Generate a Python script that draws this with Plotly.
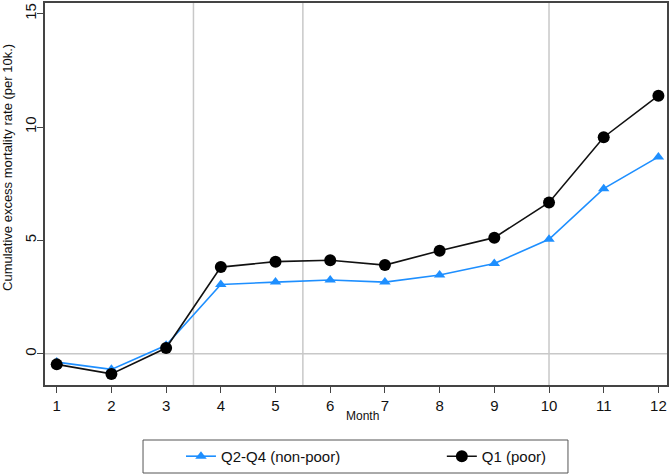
import plotly.graph_objects as go

months = list(range(1, 13))
nonpoor = [-0.37, -0.69, 0.37, 3.05, 3.16, 3.25, 3.16, 3.47, 3.98, 5.05, 7.28, 8.68]
poor = [-0.47, -0.89, 0.25, 3.82, 4.06, 4.12, 3.91, 4.54, 5.12, 6.67, 9.55, 11.38]
series_names = ["Q2-Q4 (non-poor)", "Q1 (poor)"]
ref_x = [3.5, 5.5, 10]
ref_y = [0]
x_ticks = months
y_ticks = [0, 5, 10, 15]

FONT = "Liberation Sans, Arial, Helvetica, sans-serif"

fig = go.Figure()
fig.add_trace(go.Scatter(x=months, y=nonpoor, name=series_names[0], mode="lines+markers",
                         line=dict(color="#1e8fff", width=1.6),
                         marker=dict(symbol="triangle-up", size=10, color="#1e8fff"),
                         legend="legend"))
fig.add_trace(go.Scatter(x=months, y=poor, name=series_names[1], mode="lines+markers",
                         line=dict(color="#111111", width=1.6),
                         marker=dict(symbol="circle", size=12, color="#000000"),
                         legend="legend2"))

for xv in ref_x:
    fig.add_shape(type="line", xref="x", yref="paper", x0=xv, x1=xv, y0=0, y1=1,
                  line=dict(color="#c8c8c8", width=1.5), layer="below")
for yv in ref_y:
    fig.add_shape(type="line", xref="paper", yref="y", x0=0, x1=1, y0=yv, y1=yv,
                  line=dict(color="#c8c8c8", width=1.5), layer="below")

# legend frame
fig.add_shape(type="rect", xref="paper", yref="paper", x0=0.1576, x1=0.8408, y0=-0.2304, y1=-0.144,
              line=dict(color="#555555", width=1), fillcolor="rgba(0,0,0,0)")

leg_common = dict(orientation="h", yanchor="middle", y=-0.187, xanchor="left",
                  bgcolor="rgba(0,0,0,0)", borderwidth=0, font=dict(size=15))

fig.update_layout(
    width=670, height=475,
    margin=dict(l=45, r=3, t=3, b=90, autoexpand=False),
    paper_bgcolor="white", plot_bgcolor="white",
    font=dict(family=FONT, color="#111111"),
    showlegend=True,
    legend=dict(x=0.2186, **leg_common),
    legend2=dict(x=0.638, **leg_common),
    annotations=[
        dict(text="Cumulative excess mortality rate (per 10k.)", xref="paper", yref="paper",
             x=-0.0595, y=0.5707, xanchor="center", yanchor="middle", textangle=-90,
             showarrow=False, font=dict(size=13)),
        dict(text="Month", xref="paper", yref="paper", x=0.511, y=-0.081,
             xanchor="center", yanchor="middle", showarrow=False, font=dict(size=12)),
    ],
)
fig.update_xaxes(range=[0.786, 12.157], tickvals=x_ticks, ticks="outside", ticklen=6,
                 tickcolor="#444444", tickfont=dict(size=15), showgrid=False, zeroline=False,
                 showline=True, linecolor="#444444", linewidth=1.5, mirror=True, automargin=False)
fig.update_yaxes(range=[-1.38, 15.47], tickvals=y_ticks, ticks="outside", ticklen=6,
                 tickcolor="#444444", tickfont=dict(size=15), tickangle=-90,
                 ticklabelstandoff=-5,
                 showgrid=False, zeroline=False, automargin=False,
                 showline=True, linecolor="#444444", linewidth=1.5, mirror=True)

fig.write_html("out.html", config={"displayModeBar": False},
               post_script="document.body.style.margin='0';")
